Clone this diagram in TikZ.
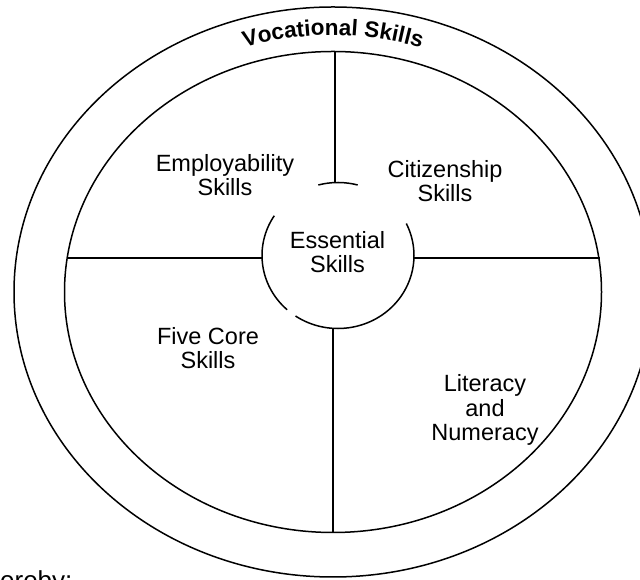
\documentclass[tikz,border=0pt]{standalone}
\usepackage{fontspec}
\setmainfont{Liberation Sans}
\usetikzlibrary{decorations.text}
\begin{document}
\begin{tikzpicture}[x=1pt,y=1pt,
  ring/.style={line width=1.5pt},
  divider/.style={line width=1.5pt},
  label/.style={align=center,font=\fontsize{23.5}{24.5}\selectfont,inner sep=0pt}]
\useasboundingbox (0,0) rectangle (640,580);
\clip (0,0) rectangle (640,580);
% centres
\coordinate (O) at (333,288);
\coordinate (C) at (338,324.5);
% outer and inner rings
\draw[ring] (O) ellipse [x radius=319, y radius=285];
\draw[ring] (O) ellipse [x radius=268.5, y radius=240.5];
% broken central circle
\draw[ring] (C) ++(236:76 and 73) arc[start angle=236, end angle=386, x radius=76, y radius=73];
\draw[ring] (C) ++(147:76 and 73) arc[start angle=147, end angle=228, x radius=76, y radius=73];
\draw[ring] (C) ++(75:76 and 73) arc[start angle=75, end angle=105, x radius=76, y radius=73];
% divider end points
\coordinate (t1) at (335,528.5);
\coordinate (t2) at (335,397.5);
\coordinate (b1) at (333,251.7);
\coordinate (b2) at (333,47.5);
\coordinate (l1) at (67.2,322);
\coordinate (l2) at (262,322);
\coordinate (r1) at (414,322);
\coordinate (r2) at (599.5,322);
\draw[divider] (t1) -- (t2);
\draw[divider] (b1) -- (b2);
\draw[divider] (l1) -- (l2);
\draw[divider] (r1) -- (r2);
% curved title
\path[decorate,decoration={text along path,text align=center,
  text={|\bfseries\fontsize{22.5}{24}\selectfont|Vocational Skills}}]
  (172.4,498.5) arc[start angle=125, end angle=55, x radius=280, y radius=257];
% labels
\node[label] (emp) at (225,405) {Employability\\Skills};
\node[label] (cit) at (445,399) {Citizenship\\Skills};
\node[label] (ess) at (337.5,328) {Essential\\Skills};
\node[label] (five) at (208,232) {Five Core\\Skills};
\node[label] (lit) at (485,170) {Literacy\\and\\Numeracy};
\node[font=\fontsize{26}{28}\selectfont,anchor=base west,inner sep=0pt] (here) at (-14.5,-10) {hereby:};
\end{tikzpicture}
\end{document}
